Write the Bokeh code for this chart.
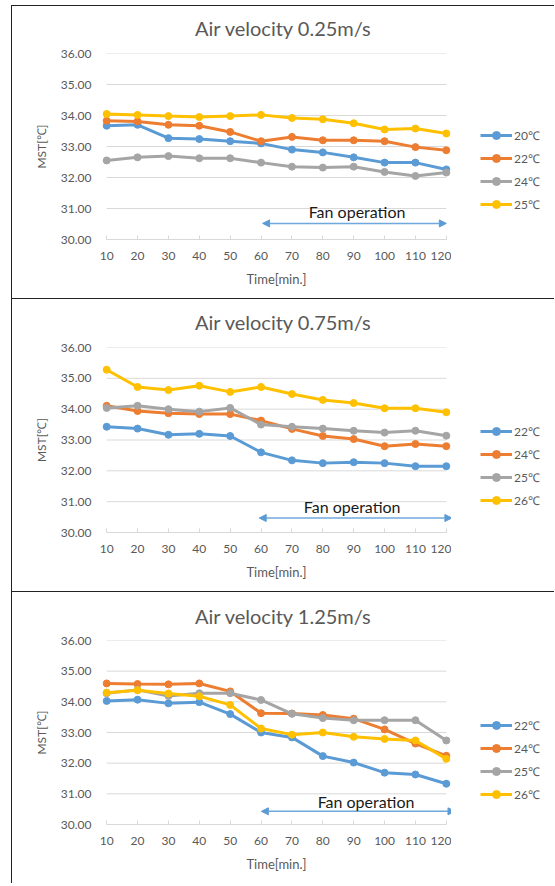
from bokeh.plotting import figure
from bokeh.layouts import column, row
from bokeh.models import (Range1d, FixedTicker, NumeralTickFormatter, Legend, LegendItem,
                          Arrow, NormalHead, Label, Spacer)
from bokeh.embed import file_html
from bokeh.resources import INLINE

# ---------------- data ----------------
time_min = [10, 20, 30, 40, 50, 60, 70, 80, 90, 100, 110, 120]
y_ticks = [30, 31, 32, 33, 34, 35, 36]
fan_on = [60, 120]

titles = ["Air velocity 0.25m/s", "Air velocity 0.75m/s", "Air velocity 1.25m/s"]

labels_025 = ["20℃", "22℃", "24℃", "25℃"]
v025_a = [33.67, 33.70, 33.27, 33.24, 33.17, 33.10, 32.90, 32.81, 32.65, 32.48, 32.48, 32.26]
v025_b = [33.83, 33.81, 33.70, 33.67, 33.47, 33.17, 33.31, 33.20, 33.20, 33.17, 32.98, 32.88]
v025_c = [32.55, 32.65, 32.69, 32.62, 32.62, 32.48, 32.35, 32.32, 32.35, 32.18, 32.05, 32.16]
v025_d = [34.05, 34.02, 33.98, 33.95, 33.98, 34.02, 33.92, 33.88, 33.75, 33.55, 33.58, 33.42]

labels_075 = ["22℃", "24℃", "25℃", "26℃"]
v075_a = [33.43, 33.37, 33.17, 33.20, 33.13, 32.60, 32.34, 32.25, 32.28, 32.25, 32.15, 32.15]
v075_b = [34.11, 33.94, 33.87, 33.84, 33.84, 33.63, 33.36, 33.13, 33.03, 32.80, 32.87, 32.80]
v075_c = [34.04, 34.11, 34.00, 33.92, 34.04, 33.50, 33.43, 33.37, 33.30, 33.24, 33.30, 33.14]
v075_d = [35.28, 34.72, 34.62, 34.76, 34.56, 34.72, 34.49, 34.30, 34.20, 34.03, 34.03, 33.90]

labels_125 = ["22℃", "24℃", "25℃", "26℃"]
v125_a = [34.03, 34.07, 33.95, 33.99, 33.60, 33.00, 32.84, 32.23, 32.02, 31.69, 31.63, 31.33]
v125_b = [34.60, 34.58, 34.57, 34.60, 34.34, 33.63, 33.62, 33.57, 33.45, 33.10, 32.64, 32.24]
v125_c = [34.28, 34.39, 34.19, 34.28, 34.28, 34.06, 33.61, 33.47, 33.40, 33.40, 33.40, 32.74]
v125_d = [34.30, 34.38, 34.27, 34.18, 33.90, 33.13, 32.93, 33.00, 32.86, 32.79, 32.74, 32.14]

# ---------------- style / layout ----------------
COLORS = ["#5B9BD5", "#ED7D31", "#A5A5A5", "#FFC000"]
TXT = "#595959"
GRID = "#D9D9D9"
FONT = "Lato"
BORDER = "1px solid #222222"

PANEL_W = 543          # canvas width of a panel (plus 1px left border)
HEAD_H = 40            # title strip height
MAIN_W = 440           # plot canvas width
LEG_W = PANEL_W - MAIN_W
LEFT = 88


def bare_fig(w, h, xr, yr, styles):
    f = figure(width=w, height=h, output_backend="svg", toolbar_location=None,
               x_range=xr, y_range=yr, x_axis_location=None, y_axis_location=None,
               min_border=0, styles=styles)
    f.outline_line_color = None
    f.grid.visible = False
    return f


def make_panel(title, labels, series, h, top, title_y, arrow_x, arrow_y, text_x, text_y, leg_y):
    # ---- title strip ----
    head = bare_fig(PANEL_W, HEAD_H, Range1d(0, PANEL_W), Range1d(0, HEAD_H),
                    {"border-top": BORDER, "border-left": BORDER})
    head.add_layout(Label(x=271, y=title_y, text=title, text_font=FONT, text_font_size="20px",
                          text_color=TXT, text_align="center", text_baseline="middle"))

    main_h = h - HEAD_H
    p = figure(width=MAIN_W, height=main_h, output_backend="svg", toolbar_location=None,
               x_range=Range1d(8, 122), y_range=Range1d(30, 36),
               min_border_left=LEFT, min_border_right=0,
               min_border_top=top, min_border_bottom=59,
               styles={"border-left": BORDER})
    p.outline_line_color = None
    p.xgrid.visible = False
    p.ygrid.visible = False

    # horizontal gridlines between first and last category
    p.segment(x0=time_min[0], x1=time_min[-1], y0=y_ticks, y1=y_ticks,
              line_color=GRID, line_width=1)

    # x axis
    xa = p.xaxis[0]
    xa.ticker = FixedTicker(ticks=time_min)
    xa.bounds = (time_min[0], time_min[-1])
    xa.axis_line_color = GRID
    xa.major_tick_line_color = GRID
    xa.major_tick_in = 4
    xa.major_tick_out = 0
    xa.minor_tick_line_color = None
    xa.major_label_text_font = FONT
    xa.major_label_text_font_size = "12px"
    xa.major_label_text_color = TXT
    xa.major_label_standoff = 12
    xa.axis_label = "Time[min.]"
    xa.axis_label_text_font = FONT
    xa.axis_label_text_font_size = "13px"
    xa.axis_label_text_font_style = "normal"
    xa.axis_label_text_color = TXT
    xa.axis_label_standoff = 8

    # y axis
    ya = p.yaxis[0]
    ya.ticker = FixedTicker(ticks=y_ticks)
    ya.formatter = NumeralTickFormatter(format="0.00")
    ya.axis_line_color = None
    ya.major_tick_line_color = None
    ya.major_tick_in = 0
    ya.major_tick_out = 0
    ya.minor_tick_line_color = None
    ya.minor_tick_in = 0
    ya.minor_tick_out = 0
    ya.major_label_text_font = FONT
    ya.major_label_text_font_size = "12px"
    ya.major_label_text_color = TXT
    ya.major_label_standoff = 9
    ya.axis_label = "MST[℃]"
    ya.axis_label_text_font = FONT
    ya.axis_label_text_font_size = "12px"
    ya.axis_label_text_font_style = "normal"
    ya.axis_label_text_color = TXT
    ya.axis_label_standoff = 9

    # ---- legend strip: same series drawn off-range there, only their swatches show ----
    lf = bare_fig(LEG_W, main_h, Range1d(0, 1), Range1d(0, 1), {})

    items = []
    for lab, vals, col in zip(labels, series, COLORS):
        p.line(time_min, vals, line_color=col, line_width=3)
        p.scatter(time_min, vals, size=7, fill_color=col, line_color=col)
        s1 = lf.line(time_min, vals, line_color=col, line_width=3)
        s2 = lf.scatter(time_min, vals, size=7, fill_color=col, line_color=col)
        items.append(LegendItem(label=lab, renderers=[s1, s2]))

    leg = Legend(items=items, location=(29, leg_y), padding=0, margin=0, spacing=3,
                 glyph_width=32, glyph_height=20, label_height=20, label_standoff=2,
                 label_text_font=FONT, label_text_font_size="12px", label_text_color=TXT,
                 background_fill_alpha=0, border_line_color=None)
    lf.add_layout(leg)

    # fan operation arrow + text
    head_kw = dict(size=7, fill_color="#5B9BD5", line_color="#5B9BD5")
    p.add_layout(Arrow(x_start=arrow_x[0], x_end=arrow_x[1], y_start=arrow_y, y_end=arrow_y,
                       start=NormalHead(**head_kw), end=NormalHead(**head_kw),
                       line_color="#6FA8DC", line_width=1.5))
    p.add_layout(Label(x=text_x, y=text_y, text="Fan operation", text_font=FONT,
                       text_font_size="16px", text_color="#1a1a1a",
                       text_align="center", text_baseline="middle"))
    return column(head, row(p, lf, spacing=0), spacing=0)


p1 = make_panel(titles[0], labels_025, [v025_a, v025_b, v025_c, v025_d],
                293, 8, 19, (60.5, fan_on[1]), 30.52, 91.1, 30.9, 25)
p2 = make_panel(titles[1], labels_075, [v075_a, v075_b, v075_c, v075_d],
                293, 9, 18, (59.4, fan_on[1] + 1.8), 30.47, 89.5, 30.85, 22)
p3 = make_panel(titles[2], labels_125, [v125_a, v125_b, v125_c, v125_d],
                292, 9, 17, (60.1, fan_on[1] + 2.8), 30.43, 94.0, 30.76, 20)

layout = row(Spacer(width=11, height=886),
             column(Spacer(width=PANEL_W, height=5), p1, p2, p3, spacing=0), spacing=0)
open("out.html", "w").write(file_html(layout, INLINE))
